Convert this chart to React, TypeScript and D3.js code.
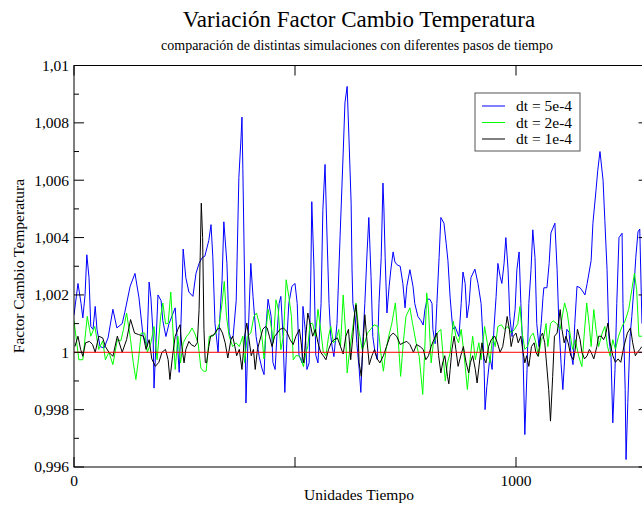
import React from "react";
import * as d3 from "d3";

// dt = 5e-4 (blue)
const serieDt5: [number, number][] = [
  [0, 1.0013], [9, 1.0024], [16, 1.0017], [20, 1.0012], [25, 1.002], [29, 1.0034], [34, 1.0026], [38, 1.0009],
  [43, 1.0008], [48, 1.0016], [52, 1.0008], [59, 1.0002], [68, 1.00015], [77, 1.0005], [88, 1.0015], [97, 1.00085],
  [109, 1.001], [115, 1.0014], [127, 1.0023], [138, 1.00275], [147, 1.0019], [156, 1.0006], [165, 1.0002], [170, 1.00245],
  [174, 1.0019], [179, 1.0006], [181, 0.99875], [186, 1.0005], [190, 1.002], [197, 1.0018], [201, 1.0011], [208, 1.00055],
  [215, 1.001], [229, 1.00155], [233, 1.00055], [238, 0.9993], [242, 1.001], [247, 1.0036], [253, 1.0026], [260, 1.0021],
  [269, 1.00195], [276, 1.00275], [283, 1.0031], [290, 1.0033], [296, 1.00335], [305, 1.0039], [310, 1.00445], [314, 1.00335],
  [319, 1.001], [326, 1.0], [328, 1.0007], [335, 1.0025], [339, 1.00455], [346, 1.0031], [351, 1.0007], [355, 1.00045],
  [360, 1.00055], [367, 1.0018], [373, 1.0061], [378, 1.0075], [380, 1.0082], [382, 1.0064], [387, 1.0015], [389, 0.99823],
  [394, 1.00055], [400, 1.0031], [405, 1.00195], [412, 1.00055], [419, 0.99985], [425, 0.99945], [430, 0.99922], [434, 1.0008],
  [439, 1.00185], [446, 1.00125], [450, 0.99965], [455, 0.9994], [459, 1.00055], [464, 1.0017], [468, 1.00195], [473, 1.00055],
  [477, 0.9986], [482, 1.00055], [486, 1.0017], [493, 1.0023], [500, 1.0024], [505, 1.0017], [509, 0.9999], [516, 0.99963],
  [518, 1.0016], [523, 1.0008], [527, 0.9994], [532, 0.99963], [536, 1.0029], [538, 1.00525], [543, 1.0029], [547, 0.9999],
  [552, 0.99963], [559, 1.0017], [563, 1.00495], [568, 1.00655], [572, 1.0043], [577, 1.0017], [581, 1.00055], [584, 1.0002],
  [588, 0.99985], [595, 1.001], [602, 1.00405], [609, 1.00695], [613, 1.0087], [618, 1.00927], [622, 1.0075], [627, 1.0052],
  [629, 1.0029], [631, 1.0017], [636, 1.00125], [640, 1.0003], [645, 0.99945], [649, 0.9986], [654, 1.00055], [658, 1.0017],
  [663, 1.00346], [667, 1.0047], [672, 1.00265], [676, 1.00055], [681, 1.0], [686, 0.99975], [690, 1.0017], [695, 1.0033],
  [699, 1.0059], [701, 1.0051], [704, 1.0033], [708, 1.00137], [713, 1.0023], [717, 1.0029], [722, 1.0035], [726, 1.00315],
  [731, 1.00305], [738, 1.003], [744, 1.0024], [749, 1.00155], [753, 1.0023], [760, 1.00288], [767, 1.0023], [771, 1.0017],
  [778, 1.00125], [785, 1.0011], [790, 1.00095], [794, 1.0015], [799, 1.00185], [805, 1.00185], [810, 1.0017], [812, 1.0008],
  [817, 1.0003], [821, 1.0017], [826, 1.0033], [830, 1.0047], [837, 1.0045], [842, 1.0038], [846, 1.0032], [851, 1.0019],
  [857, 1.0008], [862, 1.0009], [871, 1.00055], [876, 1.0017], [880, 1.0028], [885, 1.0024], [889, 1.0012], [894, 1.0017],
  [898, 1.0026], [907, 1.0029], [914, 1.0024], [921, 1.0017], [925, 1.00055], [928, 0.9994], [930, 0.998], [934, 0.9988],
  [941, 0.99985], [946, 0.9994], [950, 1.0008], [955, 1.00195], [959, 1.0031], [964, 1.00265], [968, 1.0024], [973, 1.0031],
  [977, 1.004], [982, 1.0029], [986, 1.00125], [991, 1.00055], [998, 1.0015], [1002, 1.00288], [1007, 1.0035], [1011, 1.0017],
  [1016, 0.99985], [1020, 0.99713], [1025, 0.9994], [1029, 1.0017], [1034, 1.00288], [1038, 1.00427], [1043, 1.0033], [1047, 1.001],
  [1052, 1.0002], [1057, 1.001], [1061, 1.0019], [1063, 1.00225], [1070, 1.00225], [1075, 1.0031], [1079, 1.00416], [1088, 1.0045],
  [1093, 1.00288], [1097, 1.001], [1102, 0.9996], [1106, 0.9987], [1111, 1.0], [1115, 1.0008], [1120, 1.0007], [1124, 1.0],
  [1129, 0.99957], [1133, 1.001], [1138, 1.0023], [1145, 1.00225], [1152, 1.0021], [1156, 1.002], [1161, 1.0024], [1170, 1.0032],
  [1174, 1.0045], [1181, 1.00565], [1185, 1.00635], [1190, 1.007], [1197, 1.006], [1201, 1.0046], [1206, 1.00288], [1210, 1.00055],
  [1215, 0.99985], [1219, 0.99754], [1224, 0.9994], [1228, 1.0017], [1233, 1.004], [1240, 1.00415], [1242, 1.0017], [1247, 0.9987],
  [1249, 0.99626], [1253, 0.99825], [1258, 1.00055], [1262, 1.00125], [1267, 1.0023], [1271, 1.0033], [1276, 1.0042], [1280, 1.0043],
  [1285, 1.001],
];

// dt = 2e-4 (green)
const serieDt2: [number, number][] = [
  [0, 1.0011], [11, 0.99974], [20, 0.99974], [30, 1.00125], [38, 1.00056], [47, 1.0009], [56, 1.0001], [65, 1.0004],
  [71, 0.99974], [79, 1.0], [88, 0.99957], [98, 1.00044], [106, 1.0004], [112, 1.0008], [119, 1.00137], [128, 1.00044],
  [134, 0.99965], [140, 0.99905], [146, 0.99977], [152, 1.00067], [160, 1.00067], [166, 1.0], [174, 1.00033], [181, 1.0009],
  [188, 0.99974], [196, 1.00125], [201, 1.00172], [207, 1.001], [213, 1.001], [219, 1.0021], [223, 1.001], [229, 0.9994],
  [235, 1.00056], [241, 0.99963], [247, 1.00033], [255, 1.00056], [261, 1.00067], [267, 1.00085], [273, 1.00067], [281, 1.0003],
  [287, 0.99945], [293, 0.99934], [299, 0.99934], [306, 1.00056], [314, 1.00056], [321, 1.00067], [329, 1.001], [335, 1.00172],
  [340, 1.00247], [345, 1.00125], [351, 1.00056], [359, 1.0002], [367, 1.00033], [374, 1.0002], [382, 1.00056], [386, 0.99963],
  [392, 1.00056], [400, 1.00067], [407, 1.00125], [413, 1.00137], [419, 1.001], [425, 1.00056], [430, 0.99977], [434, 1.00067],
  [439, 1.0015], [445, 1.00103], [451, 1.00033], [457, 1.00183], [462, 1.0015], [468, 1.00009], [474, 1.00056], [480, 1.00253],
  [486, 1.00195], [492, 1.00125], [496, 0.99974], [502, 0.99988], [508, 0.99988], [514, 0.99977], [519, 0.9995], [525, 1.0],
  [529, 1.0002], [534, 1.001], [540, 1.001], [546, 1.00056], [552, 1.0015], [558, 1.0008], [564, 1.0], [570, 0.99988],
  [576, 1.00056], [581, 1.0009], [587, 1.00033], [593, 1.00044], [599, 1.0008], [603, 1.0002], [609, 1.002], [614, 1.0008],
  [618, 0.99928], [624, 1.0001], [632, 1.001], [638, 1.00172], [644, 1.0008], [652, 1.0001], [658, 1.00033], [664, 1.00067],
  [671, 1.0008], [679, 1.00096], [688, 1.0009], [694, 1.0], [700, 0.99934], [706, 1.0001], [712, 1.00056], [719, 1.001],
  [727, 1.00172], [733, 1.00056], [739, 0.99916], [745, 1.00033], [751, 1.00125], [760, 1.00155], [766, 1.001], [774, 1.00033],
  [781, 0.99986], [789, 0.99853], [793, 0.99986], [798, 1.00207], [802, 1.0015], [808, 0.99963], [813, 1.00033], [817, 1.00044],
  [822, 1.00067], [830, 1.0008], [835, 0.99988], [840, 0.999], [845, 0.99963], [851, 0.99998], [858, 1.00108], [864, 1.00056],
  [870, 1.00033], [876, 1.0008], [882, 1.0], [890, 0.9987], [896, 0.99974], [902, 1.00056], [908, 0.99974], [916, 1.00033],
  [921, 0.99974], [929, 1.0009], [935, 1.00033], [941, 0.99963], [947, 1.00056], [953, 1.0002], [959, 1.0009], [967, 1.00096],
  [974, 1.0008], [982, 1.0009], [989, 1.00067], [997, 1.0008], [1004, 1.001], [1009, 1.0016], [1014, 1.00067], [1020, 1.0001],
  [1026, 1.0002], [1033, 1.00056], [1039, 1.00067], [1045, 1.00033], [1051, 0.99986], [1057, 1.00044], [1063, 1.00056], [1068, 1.001],
  [1072, 1.0002], [1078, 1.001], [1084, 1.0011], [1092, 1.001], [1100, 1.0008], [1106, 1.00137], [1110, 1.00172], [1116, 1.00137],
  [1122, 1.00067], [1128, 1.0001], [1134, 1.00044], [1142, 0.99986], [1149, 0.9995], [1154, 1.00056], [1160, 1.00172], [1166, 1.0009],
  [1170, 1.0002], [1176, 1.00149], [1181, 1.0008], [1187, 1.0002], [1195, 1.00067], [1201, 1.0009], [1207, 1.0002], [1213, 0.99986],
  [1219, 1.00044], [1225, 1.0001], [1232, 1.00056], [1240, 1.0009], [1247, 1.0011], [1255, 1.0015], [1262, 1.00218], [1268, 1.00276],
  [1273, 1.00218], [1278, 1.00056], [1285, 1.00056],
];

// dt = 1e-4 (black)
const serieDt1: [number, number][] = [
  [2, 1.0002], [9, 1.00056], [15, 1.0001], [20, 0.99986], [26, 1.00033], [35, 1.00038], [42, 1.00027], [48, 1.0],
  [56, 1.00056], [65, 1.0005], [71, 1.0002], [79, 1.0], [88, 0.99986], [98, 1.00056], [109, 1.0], [119, 1.00044],
  [128, 1.00114], [137, 1.00067], [146, 1.00062], [157, 1.00056], [163, 1.0001], [170, 1.00044], [176, 0.99977], [184, 0.99951],
  [192, 0.99965], [199, 1.0], [207, 1.0001], [213, 0.99974], [217, 0.99905], [223, 0.99988], [229, 1.00056], [235, 1.0008],
  [240, 1.00096], [244, 1.0002], [249, 0.99963], [253, 1.0001], [260, 1.00038], [265, 1.00027], [273, 1.0002], [279, 1.00033],
  [283, 1.00149], [288, 1.0052], [291, 1.004], [294, 1.0008], [297, 0.99965], [300, 0.99963], [305, 1.0002], [309, 1.00056],
  [317, 1.00062], [324, 1.0008], [330, 1.00085], [336, 1.00067], [342, 1.00033], [348, 0.9998], [355, 1.00044], [359, 1.00056],
  [364, 1.0002], [368, 0.99988], [374, 1.0001], [380, 0.9994], [386, 1.00056], [391, 1.00102], [395, 1.00056], [401, 0.99988],
  [406, 1.0001], [410, 0.9994], [415, 1.0001], [419, 1.00033], [427, 1.0008], [433, 1.0009], [437, 1.00085], [442, 1.00056],
  [448, 1.0002], [454, 1.00056], [460, 1.00067], [466, 1.0008], [474, 1.00085], [481, 1.00073], [489, 1.00044], [496, 1.00027],
  [502, 1.00056], [510, 1.0008], [514, 1.00033], [517, 0.99986], [520, 0.99963], [525, 1.00067], [529, 1.00137], [534, 1.00102],
  [540, 1.00056], [546, 1.0008], [552, 1.00033], [558, 1.0], [564, 0.99988], [570, 0.99974], [576, 1.0001], [582, 1.00033],
  [588, 1.00044], [596, 1.0005], [603, 1.0002], [609, 0.99994], [615, 1.00056], [621, 1.0008], [626, 0.99974], [631, 1.00056],
  [635, 1.00137], [638, 1.00166], [643, 1.00056], [645, 0.99963], [650, 0.99916], [655, 1.00056], [658, 1.00131], [662, 1.00056],
  [668, 0.99957], [674, 0.99988], [680, 1.0001], [686, 0.99977], [692, 0.99963], [700, 0.99988], [707, 1.0002], [715, 1.00056],
  [722, 1.00067], [730, 1.00056], [738, 1.00027], [745, 1.00033], [753, 1.00038], [760, 1.00027], [768, 1.0], [775, 1.00027],
  [783, 1.0002], [790, 1.0001], [796, 0.99974], [802, 0.99988], [808, 1.0002], [814, 1.00044], [821, 1.00067], [825, 0.99988],
  [830, 0.99928], [834, 0.99963], [839, 0.99988], [845, 0.99916], [848, 0.9989], [851, 0.9994], [855, 1.0001], [860, 1.00056],
  [864, 1.0001], [869, 0.99951], [875, 0.99988], [881, 1.0002], [887, 0.99965], [893, 0.99928], [897, 0.99965], [902, 0.99988],
  [908, 0.9994], [912, 0.99893], [919, 0.99988], [923, 1.00033], [928, 0.99977], [932, 0.99963], [938, 1.0002], [944, 1.00044],
  [952, 1.00056], [958, 1.00033], [964, 1.0], [970, 1.0002], [976, 1.0008], [980, 1.00125], [985, 1.0008], [989, 1.0002],
  [994, 1.00056], [1000, 1.00067], [1005, 1.00033], [1011, 1.00056], [1015, 1.0001], [1020, 0.99963], [1024, 0.99988], [1029, 0.99951],
  [1035, 1.0002], [1041, 1.00033], [1045, 1.0], [1050, 0.99986], [1056, 1.00056], [1060, 1.00067], [1065, 1.00033], [1069, 0.99963],
  [1074, 0.9987], [1078, 0.9976], [1083, 0.99916], [1087, 1.00056], [1093, 1.00067], [1100, 1.00149], [1104, 1.0008], [1109, 1.00033],
  [1113, 1.00056], [1118, 1.00033], [1124, 0.99988], [1130, 0.99974], [1134, 1.0001], [1139, 1.0008], [1145, 1.00044], [1149, 1.0],
  [1155, 0.99977], [1161, 0.99988], [1166, 1.0001], [1170, 1.0], [1176, 0.99977], [1183, 1.0002], [1187, 1.00056], [1193, 1.00056],
  [1198, 1.00044], [1202, 1.00056], [1208, 1.00102], [1213, 1.00033], [1219, 0.99988], [1225, 0.99965], [1231, 0.99977], [1237, 0.99965],
  [1244, 1.0002], [1252, 1.00067], [1259, 1.00085], [1264, 1.00033], [1270, 0.99988], [1275, 1.0], [1280, 1.0001], [1285, 1.0002],
];

// reference line at factor 1 (red)
const lineaReferencia: [number, number][] = [[0, 1], [1300, 1]];

const yMajorTicks = [0.996, 0.998, 1, 1.002, 1.004, 1.006, 1.008, 1.01];
const yTickLabels = ["0,996", "0,998", "1", "1,002", "1,004", "1,006", "1,008", "1,01"];
const yMinorTicks = [0.997, 0.999, 1.001, 1.003, 1.005, 1.007, 1.009];
const xMajorTicks = [0, 500, 1000];
const xTickLabels = ["0", "", "1000"];

const legendLabels = ["dt = 5e-4", "dt = 2e-4", "dt = 1e-4"];
const legendColors = ["#0000ff", "#00ff00", "#000000"];

const FONT = "'Liberation Serif', 'Times New Roman', serif";

export default function App() {
  const width = 642;
  const height = 507;
  const plot = { left: 74, top: 65.5, right: 648.6, bottom: 467 };

  const x = d3.scaleLinear().domain([0, 1300]).range([plot.left, plot.right]);
  const y = d3.scaleLinear().domain([0.996, 1.01]).range([plot.bottom, plot.top]);

  const line = d3
    .line<[number, number]>()
    .x(d => x(d[0]))
    .y(d => y(d[1]));

  const series = [
    { data: serieDt5, color: legendColors[0] },
    { data: serieDt2, color: legendColors[1] },
    { data: serieDt1, color: legendColors[2] },
    { data: lineaReferencia, color: "#ff0000" },
  ];

  const majorLen = 10;
  const minorLen = 5;

  return (
    <svg
      width={width}
      height={height}
      style={{ position: "absolute", left: 0, top: 0, background: "#fff" }}
      fontFamily={FONT}
    >
      <rect width={width} height={height} fill="#fff" />
      <defs>
        <clipPath id="plotClip">
          <rect x={plot.left} y={plot.top} width={plot.right - plot.left} height={plot.bottom - plot.top} />
        </clipPath>
      </defs>

      {/* Titles */}
      <text x={359} y={27} textAnchor="middle" fontSize={23} fill="#000">
        Variación Factor Cambio Temperatura
      </text>
      <text x={357} y={50} textAnchor="middle" fontSize={14} fill="#000">
        comparación de distintas simulaciones con diferentes pasos de tiempo
      </text>

      {/* Series */}
      <g clipPath="url(#plotClip)">
        {series.map((s, i) => (
          <path key={i} d={line(s.data) ?? ""} fill="none" stroke={s.color} strokeWidth={1} />
        ))}
      </g>

      {/* Frame */}
      <rect
        x={plot.left}
        y={plot.top}
        width={plot.right - plot.left}
        height={plot.bottom - plot.top}
        fill="none"
        stroke="#000"
        strokeWidth={1}
      />

      {/* Y ticks (left and right, inward) */}
      {yMajorTicks.map((t, i) => (
        <g key={`ym${i}`}>
          <line x1={plot.left} x2={plot.left + majorLen} y1={y(t)} y2={y(t)} stroke="#000" />
          <line x1={plot.right} x2={plot.right - majorLen} y1={y(t)} y2={y(t)} stroke="#000" />
          <text x={plot.left - 5} y={y(t)} dy="0.35em" textAnchor="end" fontSize={15.5}>
            {yTickLabels[i]}
          </text>
        </g>
      ))}
      {yMinorTicks.map((t, i) => (
        <g key={`yn${i}`}>
          <line x1={plot.left} x2={plot.left + minorLen} y1={y(t)} y2={y(t)} stroke="#000" />
          <line x1={plot.right} x2={plot.right - minorLen} y1={y(t)} y2={y(t)} stroke="#000" />
        </g>
      ))}

      {/* X ticks (bottom and top, inward) */}
      {xMajorTicks.map((t, i) => (
        <g key={`xm${i}`}>
          <line x1={x(t)} x2={x(t)} y1={plot.bottom} y2={plot.bottom - majorLen} stroke="#000" />
          <line x1={x(t)} x2={x(t)} y1={plot.top} y2={plot.top + majorLen} stroke="#000" />
          <text x={x(t)} y={486} textAnchor="middle" fontSize={15.5}>
            {xTickLabels[i]}
          </text>
        </g>
      ))}

      {/* Axis labels */}
      <text x={359} y={500} textAnchor="middle" fontSize={15.5}>
        Unidades Tiempo
      </text>
      <text transform="translate(24,266) rotate(-90)" textAnchor="middle" fontSize={15.5}>
        Factor Cambio Temperatura
      </text>

      {/* Legend */}
      <g>
        <rect x={475} y={93} width={105} height={58} fill="#fff" stroke="#555" strokeWidth={1} />
        {legendLabels.map((lab, i) => (
          <g key={lab} transform={`translate(0, ${106 + i * 16.5})`}>
            <line x1={482} x2={505} y1={0} y2={0} stroke={legendColors[i]} strokeWidth={1} />
            <text x={516} y={0} dy="0.35em" fontSize={15.5}>
              {lab}
            </text>
          </g>
        ))}
      </g>
    </svg>
  );
}
